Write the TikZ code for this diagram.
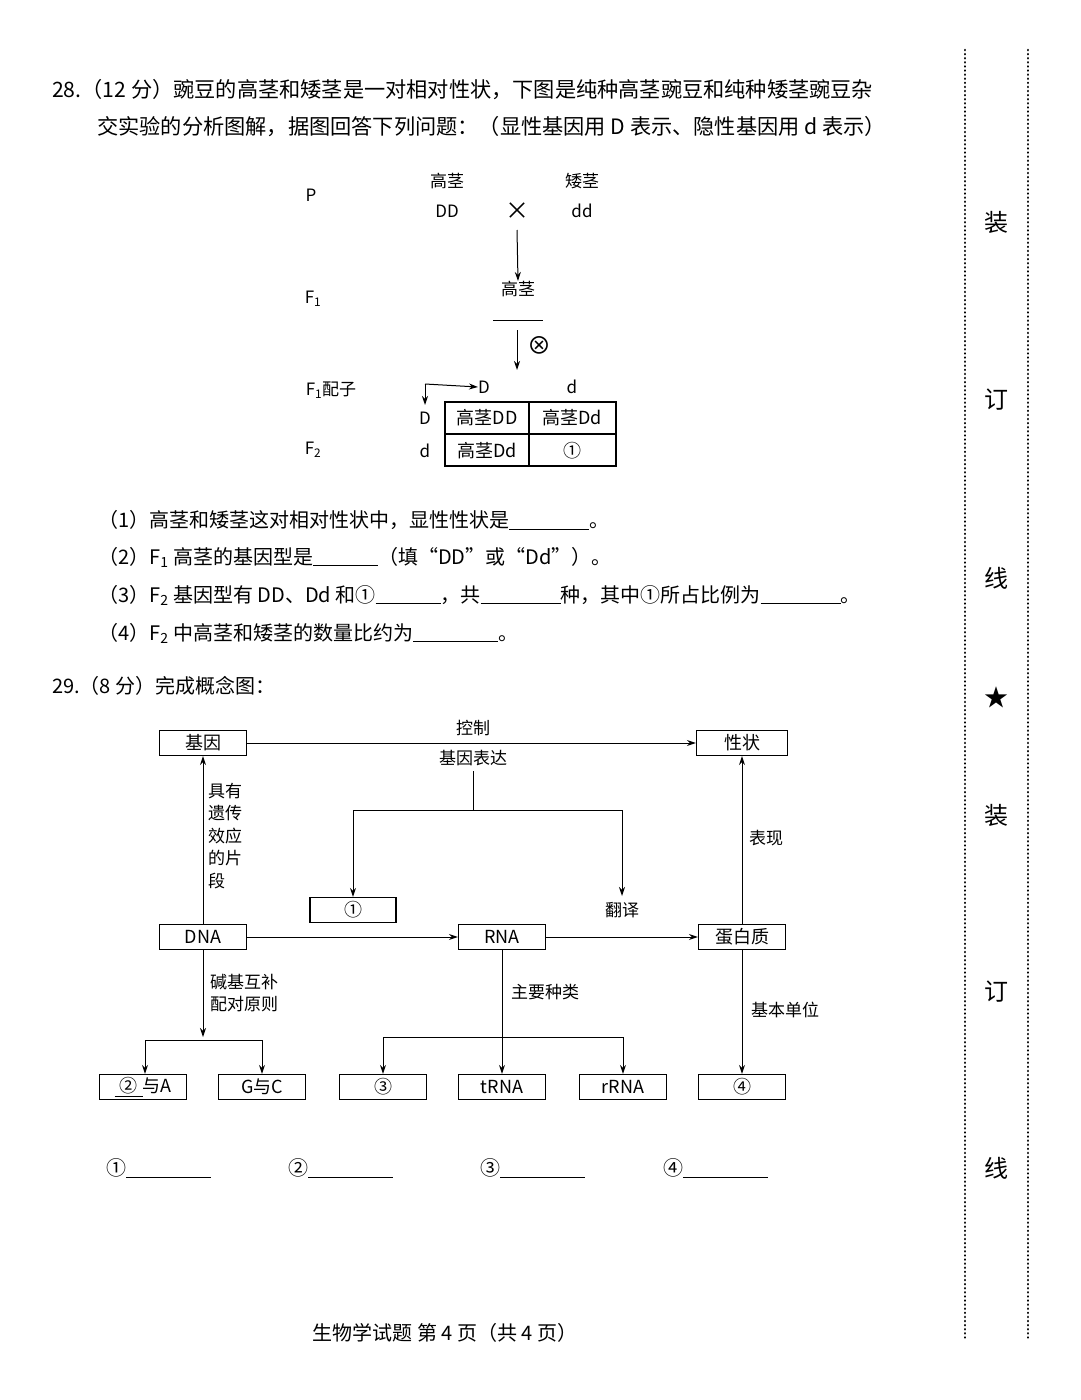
\documentclass[tikz,border=0pt]{standalone}
\usepackage{fontspec}
\setmainfont{Noto Sans CJK SC}
\usetikzlibrary{arrows.meta}
\tikzset{
 every node/.style={inner sep=0pt,font=\fontsize{17}{20}\selectfont},
 big/.style={font=\fontsize{20}{24}\selectfont},
 head/.style={font=\fontsize{21.2}{24}\selectfont},
 bx/.style={draw,line width=1.2pt,minimum width=87pt,minimum height=25pt,font=\fontsize{18}{20}\selectfont},
 ar/.style={-{Stealth[length=9pt,width=6pt]},line width=1pt},
 ln/.style={line width=1pt},
 side/.style={font=\fontsize{24}{28}\selectfont},
 dotl/.style={line width=2.6pt,dash pattern=on 0.1pt off 4pt,line cap=round}
}
\begin{document}
\begin{tikzpicture}[x=1pt,y=-1pt]
\useasboundingbox (0,0) rectangle (1080,1400);
% header text
\node[head,anchor=west] (t1) at (52,90) {28.（12 分）豌豆的高茎和矮茎是一对相对性状，下图是纯种高茎豌豆和纯种矮茎豌豆杂};
\node[head,anchor=west] (t2) at (97,127) {交实验的分析图解，据图回答下列问题：（显性基因用 D 表示、隐性基因用 d 表示）};
% cross diagram
\node (P) at (311,195) {P};
\node (g1) at (447,181) {高茎};
\node (DD) at (447,211) {DD};
\node (x) at (517,211) {\fontsize{24}{24}\selectfont ×};
\node (g2) at (582,181) {矮茎};
\node (dd) at (582,211) {dd};
\coordinate (a1) at (517,230);
\node (F1g) at (518,289) {高茎};
\draw[ar] (a1) -- (F1g.north);
\node (F1) at (313,299) {F\textsubscript{1}};
\draw[ln] (493,320) -- (543,320);
\coordinate (a2) at (517,330); \coordinate (a3) at (517,370);
\draw[ar] (a2) -- (a3);
\node (self) at (539,345) {\fontsize{24}{24}\selectfont ⊗};
\node (F1p) at (331,390) {F\textsubscript{1}配子};
\node (cD) at (484,387) {D};
\node (cd) at (572,387) {d};
\coordinate (c0) at (425,384);
\draw[ar] (c0) -- (cD.west);
\draw[ar] (c0) -- (425,405);
\node (rD) at (425,418) {D};
\node (rd) at (425,451) {d};
\node (F2) at (313,450) {F\textsubscript{2}};
\draw[line width=1.2pt] (445,402) rectangle (616,466);
\draw[line width=1.2pt] (529,402) -- (529,466) (445,434) -- (616,434);
\node[font=\fontsize{18}{20}\selectfont] at (487,418) {高茎DD};
\node[font=\fontsize{18}{20}\selectfont] at (572,418) {高茎Dd};
\node[font=\fontsize{18}{20}\selectfont] at (487,451) {高茎Dd};
\node[font=\fontsize{18}{20}\selectfont] at (572,451) {①};
% questions
\node[big,anchor=west] at (98,520) {（1）高茎和矮茎这对相对性状中，显性性状是\underline{\hspace{80pt}}。};
\node[big,anchor=west] at (98,557) {（2）F\textsubscript{1} 高茎的基因型是\underline{\hspace{65pt}}（填“DD”或“Dd”）。};
\node[big,anchor=west] at (98,595) {（3）F\textsubscript{2} 基因型有 DD、Dd 和①\underline{\hspace{65pt}}，共\underline{\hspace{80pt}}种，其中①所占比例为\underline{\hspace{80pt}}。};
\node[big,anchor=west] at (98,633) {（4）F\textsubscript{2} 中高茎和矮茎的数量比约为\underline{\hspace{85pt}}。};
\node[big,anchor=west] at (52,686) {29.（8 分）完成概念图：};
% concept map
\node[bx] (gene) at (203,743) {基因};
\node[bx,minimum width=91pt] (trait) at (742,743) {性状};
\draw[ar] (gene) -- (trait);
\node (ctl) at (473,728) {控制};
\node (expr) at (473,758) {基因表达};
\coordinate (e1) at (473,810);
\draw[ln] (expr.south)++(0,5) -- (e1);
\draw[ln] (353,810) -- (622,810);
\node[bx,minimum width=86pt] (n1) at (353,910) {①};
\draw[ar] (353,810) -- (n1.north);
\node (trans) at (622,910) {翻译};
\draw[ar] (622,810) -- (622,896);
\node[bx] (dna) at (203,937) {DNA};
\node[bx] (rna) at (502,937) {RNA};
\node[bx] (pro) at (742,937) {蛋白质};
\draw[ar] (dna) -- (rna);
\draw[ar] (rna) -- (pro);
\draw[ar] (dna) -- (gene);
\draw[ar] (pro) -- (trait);
\node[align=left,anchor=north west,font=\fontsize{17}{22.5}\selectfont] (lab1) at (208,783) {具有\\遗传\\效应\\的片\\段};
\node (bx1) at (766,838) {表现};
\node[align=left,anchor=west,font=\fontsize{17}{22}\selectfont] (lab2) at (210,993) {碱基互补\\配对原则};
\node (lab3) at (545,992) {主要种类};
\node (lab4) at (785,1010) {基本单位};
\node[bx] (b2) at (143,1087) {\underline{\;②\;}与A};
\node[bx] (gc) at (262,1087) {G与C};
\node[bx] (b3) at (383,1087) {③};
\node[bx] (trna) at (502,1087) {tRNA};
\node[bx] (rrna) at (623,1087) {rRNA};
\node[bx] (b4) at (742,1087) {④};
\draw[ar] (dna) -- (203,1037);
\draw[ln] (145,1040) -- (262,1040);
\draw[ar] (145,1040) -- (b2.north -| 145,0);
\draw[ar] (262,1040) -- (gc.north);
\draw[ar] (rna) -- (trna);
\draw[ln] (383,1037) -- (623,1037);
\draw[ar] (383,1037) -- (b3.north);
\draw[ar] (623,1037) -- (rrna.north);
\draw[ar] (pro) -- (b4);
% answers
\node[big,anchor=west] at (106,1168) {①\underline{\hspace{85pt}}};
\node[big,anchor=west] at (288,1168) {②\underline{\hspace{85pt}}};
\node[big,anchor=west] at (480,1168) {③\underline{\hspace{85pt}}};
\node[big,anchor=west] at (663,1168) {④\underline{\hspace{85pt}}};
\node[big] at (445,1333) {生物学试题 第 4 页（共 4 页）};
% side margin
\draw[dotl] (965,50) -- (965,1340);
\draw[dotl] (1028,50) -- (1028,1340);
\node[side] at (996,222) {装};
\node[side] at (996,400) {订};
\node[side] at (996,578) {线};
\node[side] at (996,697) {★};
\node[side] at (996,815) {装};
\node[side] at (996,992) {订};
\node[side] at (996,1168) {线};
\end{tikzpicture}
\end{document}
